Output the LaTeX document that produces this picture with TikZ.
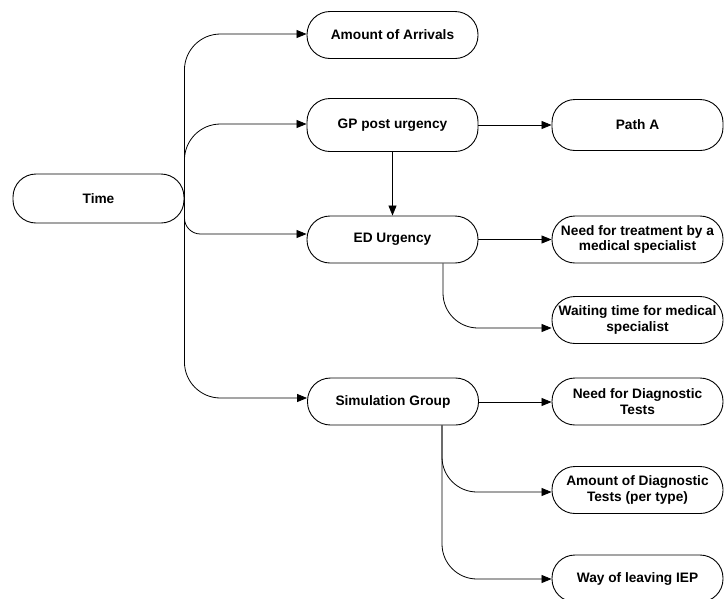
\documentclass[tikz,border=0pt]{standalone}
\usepackage{fontspec}
\setmainfont{Liberation Sans}
\usetikzlibrary{arrows.meta}
\begin{document}
\begin{tikzpicture}[x=1pt,y=-1pt,
  box/.style={draw, line width=0.9pt, rectangle, rounded corners=23pt,
    minimum width=171pt, minimum height=47pt, inner sep=2pt, align=center,
    font=\fontsize{13.7}{15.5}\selectfont\bfseries},
  link/.style={draw, line width=0.8pt, -{Triangle[length=10pt,width=8pt]}},
  bend/.style={link, rounded corners=#1},
]
\useasboundingbox (0,0) rectangle (724,598);
\begin{scope}
\clip (0,0) rectangle (724,598);

% entry node
\node[box, minimum height=49pt] (time) at (98.5,198.5) {Time};

% second column
\node[box] (arrivals) at (392.5,35) {Amount of Arrivals};
\node[box, minimum height=53pt] (gp) at (392.5,125) {GP post urgency};
\node[box] (ed) at (392.5,239.5) {ED Urgency};
\node[box] (sim) at (393,401.5) {Simulation Group};

% third column
\node[box, minimum height=51pt] (patha) at (637.5,125) {Path A};
\node[box] (treat) at (637.5,239.5) {Need for treatment by a\\medical specialist};
\node[box] (wait) at (637.5,320) {Waiting time for medical\\specialist};
\node[box] (needdiag) at (637.5,401.5) {Need for Diagnostic\\Tests};
\node[box] (amtdiag) at (637.5,490) {Amount of Diagnostic\\Tests (per type)};
\node[box] (leave) at (637.5,578.5) {Way of leaving IEP};

% branches leaving Time
\draw[bend=36pt] (time.east) |- ([yshift=1pt]arrivals.west);
\draw[bend=36pt] (time.east) |- ([yshift=1pt]gp.west);
\draw[bend=16pt] (time.east) |- ([yshift=5.5pt]ed.west);
\draw[bend=36pt] (time.east) |- ([yshift=3.5pt]sim.west);

% GP post urgency
\draw[link] (gp.east) -- (patha.west);
\draw[link] (gp.south) -- (ed.north);

% ED Urgency
\draw[link] (ed.east) -- (treat.west);
\draw[bend=35pt] ([xshift=50.5pt]ed.south) |- ([yshift=-8pt]wait.west);

% Simulation Group
\draw[link] ([yshift=-0.5pt]sim.east) -- ([yshift=-0.5pt]needdiag.west);
\draw[bend=35pt] ([xshift=49pt]sim.south) |- ([yshift=-2pt]amtdiag.west);
\draw[bend=35pt] ([xshift=49pt]sim.south) |- ([yshift=-0.5pt]leave.west);
\end{scope}
\end{tikzpicture}
\end{document}
